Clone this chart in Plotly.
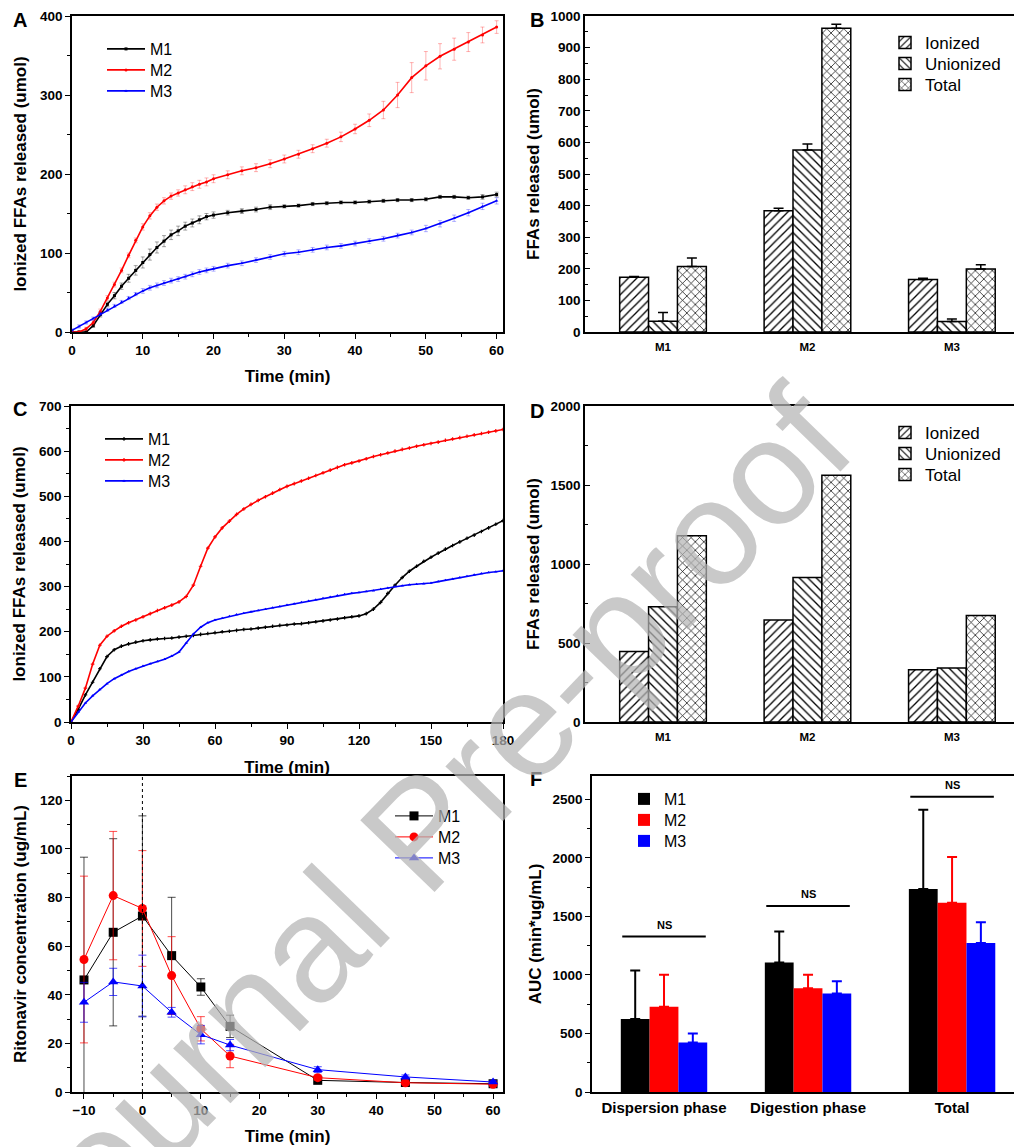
import plotly.graph_objects as go

W, H = 1014, 1147

# ---------------- Panel A: ionized FFAs, 60 min ----------------
A_time = list(range(0, 21)) + list(range(22, 61, 2))
A_M1 = [0, 0, 0, 8, 22, 35, 46, 58, 68, 78, 88, 98, 107, 115, 123, 128, 134, 138, 142, 146, 148,
        151, 153, 155, 158, 159, 160, 162, 163, 164, 164, 165, 166, 167, 167, 168, 171, 171, 170, 171, 174]
A_M1_err = [1, 1, 1, 2, 3, 3, 4, 4, 5, 6, 7, 7, 7, 7, 6, 6, 5, 5, 5, 4, 4,
            3, 3, 3, 3, 2, 2, 2, 2, 2, 2, 2, 2, 2, 2, 2, 2, 2, 2, 3, 3]
A_M2 = [0, 0, 4, 12, 26, 43, 60, 78, 97, 116, 133, 147, 158, 166, 172, 176, 180, 184, 187, 190, 194,
        199, 204, 208, 213, 219, 225, 232, 239, 247, 257, 268, 281, 300, 322, 337, 349, 358, 367, 376, 386]
A_M2_err = [1, 1, 2, 3, 3, 3, 3, 3, 3, 3, 4, 4, 4, 4, 4, 4, 5, 5, 5, 5, 5,
            5, 5, 5, 5, 5, 5, 5, 5, 6, 6, 8, 11, 16, 19, 18, 16, 14, 12, 10, 8]
A_M3 = [2, 7, 12, 17, 23, 28, 33, 38, 43, 48, 52, 56, 59, 62, 65, 67, 70, 73, 76, 78, 80,
        84, 87, 91, 95, 99, 101, 104, 107, 109, 112, 115, 118, 122, 126, 131, 137, 144, 151, 159, 166]
A_M3_err = [2, 2, 2, 2, 2, 2, 2, 2, 2, 2, 3, 3, 3, 3, 3, 3, 3, 3, 3, 3, 3,
            3, 3, 3, 3, 3, 3, 3, 3, 3, 3, 3, 3, 3, 3, 4, 4, 4, 4, 4, 4]

# ---------------- Panel C: ionized FFAs, 180 min ----------------
C_time = list(range(0, 181, 3))
C_M1 = [0, 28, 60, 88, 118, 145, 160, 168, 173, 177,
        180, 182, 184, 185, 186, 188, 190, 192, 194, 196,
        198, 200, 201, 203, 205, 206, 208, 210, 212, 214,
        215, 217, 218, 220, 222, 224, 226, 228, 231, 233,
        235, 240, 250, 265, 285, 303, 320, 334, 345, 356,
        365, 374, 383, 391, 399, 407, 414, 422, 430, 438,
        446]
C_M2 = [0, 35, 75, 128, 170, 190, 202, 212, 220, 226,
        233, 240, 247, 253, 259, 266, 278, 303, 345, 385,
        410, 430, 445, 460, 472, 482, 491, 499, 507, 515,
        522, 528, 534, 540, 546, 552, 558, 564, 570, 574,
        578, 583, 588, 592, 596, 600, 604, 607, 611, 614,
        617, 620, 624, 627, 630, 633, 636, 639, 642, 645,
        648]
C_M3 = [0, 22, 42, 58, 72, 85, 96, 104, 112, 118,
        124, 129, 134, 139, 146, 155, 175, 195, 210, 220,
        226, 230, 234, 238, 241, 244, 247, 250, 253, 256,
        259, 262, 265, 268, 271, 274, 277, 280, 283, 285,
        287, 289, 291, 294, 297, 300, 302, 304, 305, 306,
        308, 311, 314, 317, 320, 323, 326, 329, 331, 333,
        335]

# ---------------- Panels B & D: FFAs released ----------------
FFA_cats = ["M1", "M2", "M3"]
B_ion = [173, 384, 166]
B_ion_err = [3, 8, 4]
B_union = [34, 576, 33]
B_union_err = [28, 19, 8]
B_total = [207, 961, 199]
B_total_err = [27, 13, 14]
D_ion = [446, 646, 330]
D_union = [730, 914, 341]
D_total = [1179, 1562, 674]

# ---------------- Panel E: ritonavir concentration ----------------
E_time = [-10, -5, 0, 5, 10, 15, 30, 45, 60]
E_M1 = [46.1, 65.7, 72.4, 56.1, 43.2, 27.0, 4.8, 3.9, 3.4]
E_M1_err = [50.5, 38.5, 41.2, 24.0, 3.4, 4.6, 0.8, 0.5, 0.4]
E_M2 = [54.5, 80.8, 75.5, 47.9, 26.0, 14.8, 5.9, 3.8, 3.2]
E_M2_err = [34.3, 26.4, 23.8, 16.0, 5.0, 4.8, 1.0, 0.6, 0.5]
E_M3 = [36.9, 45.3, 43.6, 32.8, 23.6, 19.3, 9.2, 6.2, 4.1]
E_M3_err = [8.2, 5.6, 12.7, 2.0, 3.8, 2.3, 1.2, 0.8, 0.6]
E_digestion_start = 0

# ---------------- Panel F: AUC ----------------
F_phases = ["Dispersion phase", "Digestion phase", "Total"]
F_M1 = [623, 1106, 1735]
F_M1_err = [415, 265, 677]
F_M2 = [728, 887, 1618]
F_M2_err = [273, 114, 390]
F_M3 = [424, 842, 1274]
F_M3_err = [76, 105, 176]
F_NS_level = [1328, 1590, 2523]

BLACK, RED, BLUE = "#000000", "#ff0000", "#0000ff"
FONT = "Liberation Sans, Arial, sans-serif"
TICKFONT = dict(family=FONT, size=13.5, color="black", weight="bold")
TITLEFONT = dict(family=FONT, size=17, color="black", weight="bold")


def xd(a, b):
    return [a / W, b / W]


def yd(top, bottom):
    return [1 - bottom / H, 1 - top / H]


def lin_axis(domain, rng, dtick, minor, anchor, ticks="outside", title=None, standoff=8,
             tickfont=TICKFONT, mirror=True):
    d = dict(domain=domain, range=rng, dtick=dtick, tick0=0, ticks=ticks, ticklen=5, tickwidth=1.3,
             tickcolor="black", minor=dict(dtick=minor, tick0=0, ticks=ticks, ticklen=3, tickwidth=1,
                                           tickcolor="black", showgrid=False),
             showline=True, linecolor="black", linewidth=1.5, mirror=mirror, showgrid=False,
             zeroline=False, tickfont=tickfont, anchor=anchor, automargin=False, fixedrange=True)
    if title:
        d["title"] = dict(text=title, font=TITLEFONT, standoff=standoff)
    return d


def cat_axis(domain, rng, anchor, tickfont, ticklen=3):
    return dict(domain=domain, range=rng, type="category", ticks="outside", ticklen=ticklen,
                tickcolor="rgba(0,0,0,0)", showline=True, linecolor="black", linewidth=1.5,
                mirror=True, showgrid=False, zeroline=False, tickfont=tickfont, anchor=anchor,
                automargin=False, fixedrange=True)


LEGFONT = dict(family=FONT, size=16, color="black")
BLEGFONT = dict(family=FONT, size=17, color="black")
legends = {}
leg_counter = [0]


def new_legend(x, row_center, font, itemwidth, offset):
    leg_counter[0] += 1
    key = "legend" if leg_counter[0] == 1 else "legend%d" % leg_counter[0]
    legends[key] = dict(x=x / W, y=1 - (row_center - offset) / H, xanchor="left", yanchor="top",
                        bgcolor="rgba(0,0,0,0)", font=font, itemwidth=itemwidth, borderwidth=0)
    return key


fig = go.Figure()

# ---- A ----
A_rows = [48, 69, 90]
for k, (name, ys, es, col, sym, ecol) in enumerate([
    ("M1", A_M1, A_M1_err, BLACK, "square", "rgba(0,0,0,0.35)"),
    ("M2", A_M2, A_M2_err, RED, "circle", "rgba(255,0,0,0.3)"),
    ("M3", A_M3, A_M3_err, BLUE, "triangle-up", "rgba(0,0,255,0.3)"),
]):
    fig.add_trace(go.Scatter(x=A_time, y=ys, name=name, mode="lines+markers",
                             line=dict(color=col, width=1.6), marker=dict(symbol=sym, size=3, color=col),
                             error_y=dict(type="data", array=es, color=ecol, thickness=1, width=2),
                             xaxis="x", yaxis="y",
                             legend=new_legend(102, A_rows[k], LEGFONT, 38, 16)))

# ---- B ----
patterns = {"Ionized": "/", "Unionized": "\\", "Total": "x"}
B_rows = [43, 64, 85]
for k, (name, ys, es) in enumerate([("Ionized", B_ion, B_ion_err), ("Unionized", B_union, B_union_err),
                                    ("Total", B_total, B_total_err)]):
    fig.add_trace(go.Bar(x=FFA_cats, y=ys, name=name,
                         marker=dict(color="white", line=dict(color="black", width=1.5),
                                     pattern=dict(shape=patterns[name], fgcolor="black", bgcolor="white",
                                                  size=6, solidity=0.22)),
                         error_y=dict(type="data", array=es, arrayminus=[0] * len(es), symmetric=False,
                                      color="black", thickness=1.5, width=5),
                         xaxis="x2", yaxis="y2",
                         legend=new_legend(885, B_rows[k], BLEGFONT, 30, 18)))

# ---- C ----
C_rows = [438, 459, 480]
for k, (name, ys, col, sym) in enumerate([("M1", C_M1, BLACK, "cross"), ("M2", C_M2, RED, "cross"),
                                          ("M3", C_M3, BLUE, "triangle-up")]):
    fig.add_trace(go.Scatter(x=C_time, y=ys, name=name, mode="lines+markers",
                             line=dict(color=col, width=1.6), marker=dict(symbol=sym, size=3, color=col),
                             xaxis="x3", yaxis="y3",
                             legend=new_legend(100, C_rows[k], LEGFONT, 38, 16)))

# ---- D ----
D_rows = [433, 454, 475]
for k, (name, ys) in enumerate([("Ionized", D_ion), ("Unionized", D_union), ("Total", D_total)]):
    fig.add_trace(go.Bar(x=FFA_cats, y=ys, name=name,
                         marker=dict(color="white", line=dict(color="black", width=1.5),
                                     pattern=dict(shape=patterns[name], fgcolor="black", bgcolor="white",
                                                  size=6, solidity=0.22)),
                         xaxis="x4", yaxis="y4",
                         legend=new_legend(885, D_rows[k], BLEGFONT, 30, 18)))

# ---- E ----
E_rows = [815, 836, 857]
for k, (name, ys, es, col, sym, ecol) in enumerate([
    ("M1", E_M1, E_M1_err, BLACK, "square", "rgba(0,0,0,0.7)"),
    ("M2", E_M2, E_M2_err, RED, "circle", "rgba(255,0,0,0.7)"),
    ("M3", E_M3, E_M3_err, BLUE, "triangle-up", "rgba(0,0,255,0.7)"),
]):
    fig.add_trace(go.Scatter(x=E_time, y=ys, name=name, mode="lines+markers",
                             line=dict(color=col, width=1), marker=dict(symbol=sym, size=9, color=col),
                             error_y=dict(type="data", array=es, color=ecol, thickness=1, width=4),
                             xaxis="x5", yaxis="y5",
                             legend=new_legend(390, E_rows[k], LEGFONT, 38, 16)))
fig.add_shape(type="line", xref="x5", yref="y5 domain", x0=E_digestion_start, x1=E_digestion_start,
              y0=0, y1=1, line=dict(color="black", width=1, dash="dot"))

# ---- F ----
F_rows = [798, 819, 840]
for k, (name, ys, es, col) in enumerate([("M1", F_M1, F_M1_err, BLACK), ("M2", F_M2, F_M2_err, RED),
                                         ("M3", F_M3, F_M3_err, BLUE)]):
    fig.add_trace(go.Bar(x=F_phases, y=ys, name=name, marker=dict(color=col, line=dict(width=0)),
                         error_y=dict(type="data", array=es, arrayminus=[0] * len(es), symmetric=False,
                                      color=col, thickness=2, width=5),
                         xaxis="x6", yaxis="y6",
                         legend=new_legend(624, F_rows[k], LEGFONT, 30, 16)))
for i, lvl in enumerate(F_NS_level):
    fig.add_shape(type="line", xref="x6", yref="y6", x0=i - 0.29, x1=i + 0.29, y0=lvl, y1=lvl,
                  line=dict(color="black", width=2))
    fig.add_annotation(x=i, y=lvl, xref="x6", yref="y6", text="NS", showarrow=False,
                       yanchor="bottom", yshift=4, font=dict(family=FONT, size=11, weight="bold"))

# ---- layout ----
fig.update_layout(
    width=W, height=H, margin=dict(l=0, r=0, t=0, b=0),
    paper_bgcolor="white", plot_bgcolor="white", template="none",
    barmode="group", bargap=0.4, bargroupgap=0, showlegend=True,
    font=dict(family=FONT, color="black"),
    xaxis=lin_axis(xd(72, 503), [0, 60.9], 10, 5, "y", title="Time (min)", standoff=13),
    yaxis=lin_axis(yd(16, 332), [0, 400], 100, 50, "x", title="Ionized FFAs released (umol)", standoff=9),
    xaxis2=cat_axis(xd(585, 1014), [-0.54, 2.43], "y2", dict(family=FONT, size=11.5, weight="bold")),
    yaxis2=lin_axis(yd(16, 332), [0, 1000], 100, 50, "x2", ticks="inside", title="FFAs released (umol)",
                    standoff=7, mirror=False),
    xaxis3=lin_axis(xd(71, 503), [0, 180], 30, 15, "y3", title="Time (min)", standoff=14),
    yaxis3=lin_axis(yd(406, 722), [0, 700], 100, 50, "x3", title="Ionized FFAs released (umol)", standoff=9),
    xaxis4=cat_axis(xd(585, 1014), [-0.54, 2.43], "y4", dict(family=FONT, size=11.5, weight="bold")),
    yaxis4=lin_axis(yd(406, 722), [0, 2000], 500, 250, "x4", ticks="inside", title="FFAs released (umol)",
                    standoff=7, mirror=False),
    xaxis5=lin_axis(xd(72, 503), [-12.05, 61.7], 10, 5, "y5", title="Time (min)", standoff=13),
    yaxis5=lin_axis(yd(776, 1092), [0, 130], 20, 10, "x5", title="Ritonavir concentration (ug/mL)", standoff=9),
    xaxis6=cat_axis(xd(592, 1014), [-0.5, 2.43], "y6", dict(family=FONT, size=15, weight="bold"), ticklen=1),
    yaxis6=lin_axis(yd(776, 1092), [0, 2700], 500, 250, "x6", title="AUC (min*ug/mL)", standoff=7),
    **legends,
)

# panel letters
for letter, px, py in [("A", 20, 20), ("B", 537, 20), ("C", 20, 409), ("D", 537, 411),
                       ("E", 20, 780), ("F", 536, 779)]:
    fig.add_annotation(x=px / W, y=1 - py / H, xref="paper", yref="paper", text=letter, showarrow=False,
                       xanchor="center", yanchor="middle",
                       font=dict(family=FONT, size=20, weight="bold", color="black"))

# watermark
fig.add_annotation(x=420 / W, y=1 - 832 / H, xref="paper", yref="paper", text="Journal Pre-proof",
                   showarrow=False, textangle=-46, xanchor="center", yanchor="middle",
                   font=dict(family=FONT, size=150, color="rgba(180,180,180,0.72)"))

fig.write_html("out.html", config={"displayModeBar": False},
               post_script="document.body.style.margin='0';")
